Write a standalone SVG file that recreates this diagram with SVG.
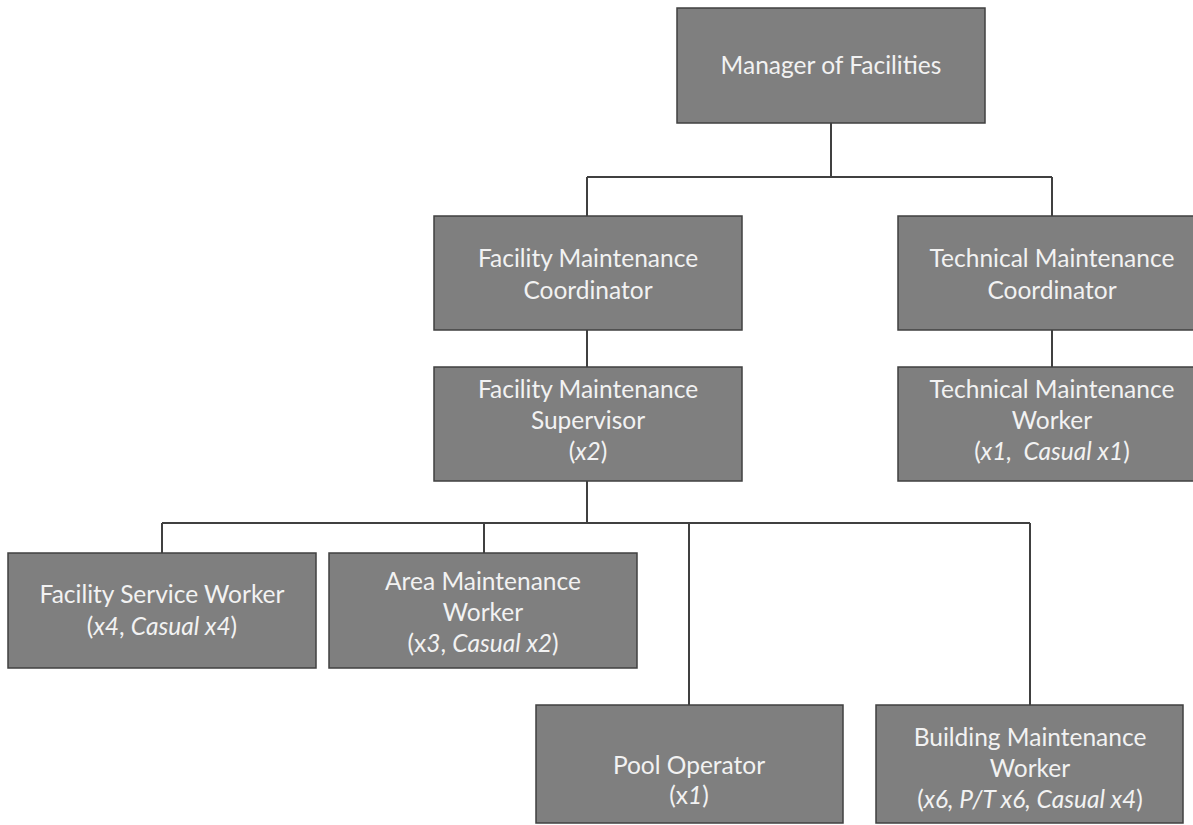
<svg xmlns="http://www.w3.org/2000/svg" width="1193" height="825" viewBox="0 0 1193 825">
<style>
.box{fill:#7f7f7f;stroke:#404040;stroke-width:1.5}
.t{font-family:Lato,"Open Sans","Liberation Sans",sans-serif;font-size:24.5px;fill:#f2f2f2;text-anchor:middle}
.i{font-style:italic}
.c{fill:none;stroke:#404040;stroke-width:2}
</style>
<rect width="1193" height="825" fill="#ffffff"/>
<g id="connectors">
<path class="c" d="M831,123 V177 M587,177 H1052 M587,177 V216 M1052,177 V216"/>
<path class="c" d="M587,330 V367 M1052,330 V367"/>
<path class="c" d="M587,481 V523 M162,523 H1030 M162,523 V553 M484,523 V553 M689,523 V705 M1030,523 V705"/>
</g>
<g id="manager">
<rect class="box" x="677" y="8" width="308" height="115"/>
<text class="t" x="831" y="74">Manager of Facilities</text>
</g>
<g id="fmc">
<rect class="box" x="434" y="216" width="308" height="114"/>
<text class="t" x="588" y="267">Facility Maintenance</text>
<text class="t" x="588" y="299">Coordinator</text>
</g>
<g id="tmc">
<rect class="box" x="898" y="216" width="308" height="114"/>
<text class="t" x="1052" y="267">Technical Maintenance</text>
<text class="t" x="1052" y="299">Coordinator</text>
</g>
<g id="fms">
<rect class="box" x="434" y="367" width="308" height="114"/>
<text class="t" x="588" y="398">Facility Maintenance</text>
<text class="t" x="588" y="429">Supervisor</text>
<text class="t" x="588" y="460">(<tspan class="i">x2</tspan>)</text>
</g>
<g id="tmw">
<rect class="box" x="898" y="367" width="308" height="114"/>
<text class="t" x="1052" y="398">Technical Maintenance</text>
<text class="t" x="1052" y="429">Worker</text>
<text class="t" x="1052" y="460" xml:space="preserve">(<tspan class="i">x1,  Casual x1</tspan>)</text>
</g>
<g id="fsw">
<rect class="box" x="8" y="553" width="308" height="115"/>
<text class="t" x="162" y="603">Facility Service Worker</text>
<text class="t" x="162" y="635">(<tspan class="i">x4</tspan>, <tspan class="i">Casual x4</tspan>)</text>
</g>
<g id="amw">
<rect class="box" x="329" y="553" width="308" height="115"/>
<text class="t" x="483" y="590">Area Maintenance</text>
<text class="t" x="483" y="621">Worker</text>
<text class="t" x="483" y="652">(x<tspan class="i">3</tspan>, <tspan class="i">Casual x2</tspan>)</text>
</g>
<g id="pool">
<rect class="box" x="536" y="705" width="307" height="118"/>
<text class="t" x="689" y="774">Pool Operator</text>
<text class="t" x="689" y="804">(x<tspan class="i">1</tspan>)</text>
</g>
<g id="bmw">
<rect class="box" x="876" y="705" width="307" height="118"/>
<text class="t" x="1030" y="746">Building Maintenance</text>
<text class="t" x="1030" y="777">Worker</text>
<text class="t" x="1030" y="808">(<tspan class="i">x6, P/T x6, Casual x4</tspan>)</text>
</g>
</svg>
